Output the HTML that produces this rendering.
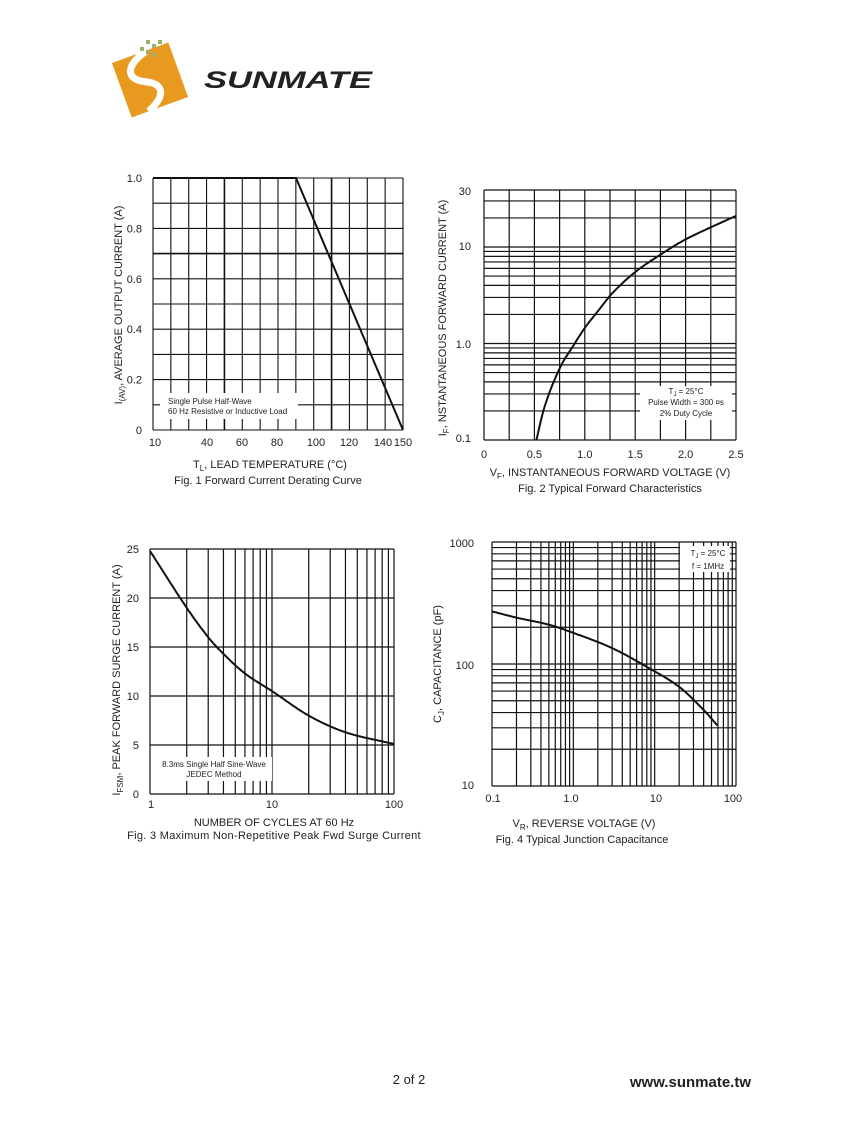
<!DOCTYPE html>
<html><head><meta charset="utf-8"><style>
html,body{margin:0;padding:0;background:#fff;}
body{width:847px;height:1125px;position:relative;overflow:hidden;font-family:"Liberation Sans",Arial,sans-serif;}
svg text{font-family:"Liberation Sans",Arial,sans-serif;fill:#222;}
</style></head><body>
<svg id="s" width="847" height="1125" xmlns="http://www.w3.org/2000/svg">
<g transform="translate(150,80) rotate(-20)">
<rect x="-30" y="-29" width="60" height="58" fill="#e79a1f"/>
<path d="M8,-29 C-20,-22 -22,-8 -5,0 C12,8 10,20 -12,29" stroke="#fff" stroke-width="7" fill="none"/>
</g>
<g fill="#9bb06a"><rect x="146" y="40" width="4" height="4"/><rect x="152" y="44" width="4" height="4"/><rect x="158" y="40" width="4" height="4"/><rect x="140" y="47" width="4" height="4"/><rect x="146" y="50" width="4" height="4"/><rect x="152" y="53" width="4" height="4"/></g>
<text x="204" y="88" font-size="24" font-weight="bold" font-style="italic" style="fill:#222" textLength="168" lengthAdjust="spacingAndGlyphs">SUNMATE</text>
<g id="g"></g>
<text x="409" y="1084" font-size="13" text-anchor="middle">2 of 2</text>
<text x="751" y="1087" font-size="15" font-weight="bold" text-anchor="end">www.sunmate.tw</text>
</svg>
<script>
var g=document.getElementById('g'),h='';
function L(x1,y1,x2,y2,w){h+='<line x1="'+x1+'" y1="'+y1+'" x2="'+x2+'" y2="'+y2+'" stroke="#111" stroke-width="'+(w||1.2)+'"/>';}
function T(x,y,t,s,a,extra){h+='<text x="'+x+'" y="'+y+'" font-size="'+(s||11)+'" text-anchor="'+(a||'middle')+'" '+(extra||'')+'>'+t+'</text>';}
function P(pts){h+='<polyline points="'+pts.map(p=>p[0].toFixed(1)+','+p[1].toFixed(1)).join(' ')+'" fill="none" stroke="#111" stroke-width="2"/>';}
function R(x,y,w,hh){h+='<rect x="'+x+'" y="'+y+'" width="'+w+'" height="'+hh+'" fill="#fff"/>';}
// Catmull-Rom smooth interpolation
function interp(pts,x){var n=pts.length;for(var i=0;i<n-1;i++){if(x<=pts[i+1][0]||i==n-2){var p0=pts[Math.max(i-1,0)],p1=pts[i],p2=pts[i+1],p3=pts[Math.min(i+2,n-1)];var t=(x-p1[0])/(p2[0]-p1[0]);t=Math.max(0,Math.min(1,t));
var m1=(p2[1]-p0[1])/(p2[0]-p0[0])*(p2[0]-p1[0]),m2=(p3[1]-p1[1])/(p3[0]-p1[0])*(p2[0]-p1[0]);
var t2=t*t,t3=t2*t;return (2*t3-3*t2+1)*p1[1]+(t3-2*t2+t)*m1+(-2*t3+3*t2)*p2[1]+(t3-t2)*m2;}}return pts[n-1][1];}
// Fig1
var x0=153,x1=403,y0=178,y1=430;
for(var i=0;i<=14;i++){var x=x0+(x1-x0)*i/14;L(x,y0,x,y1,(i==4||i==10)?1.6:1.1);}
for(var i=0;i<=10;i++){var y=y1-(y1-y0)*i/10;L(x0,y,x1,y,i==7?1.6:1.1);}
R(160,393,138,26);
T(168,404,'Single Pulse Half-Wave',8,'start');T(168,414,'60 Hz Resistive or Inductive Load',8,'start');
P([[x0,y0],[296,y0],[x1,y1]]);
[['1.0',0],['0.8',.2],['0.6',.4],['0.4',.6],['0.2',.8],['0',1]].forEach(function(a){T(142,y0+a[1]*(y1-y0)+4,a[0],11,'end');});
[['10',155],['40',207],['60',242],['80',277],['100',316],['120',349],['140',383],['150',403]].forEach(function(a){T(a[1],446,a[0],11);});
T(270,468,'T<tspan dy="3" font-size="8">L</tspan><tspan dy="-3">, LEAD TEMPERATURE (°C)</tspan>',11);
T(268,484,'Fig. 1  Forward Current Derating Curve',11);
T(0,0,'I<tspan dy="3" font-size="8">(AV)</tspan><tspan dy="-3">, AVERAGE OUTPUT CURRENT (A)</tspan>',11,'middle','transform="translate(122,305) rotate(-90)"');
// Fig2
x0=484;x1=736;y0=190;y1=440;var dec=96.5;
for(var i=0;i<=10;i++){var x=x0+(x1-x0)*i/10;L(x,y0,x,y1);}
function yl2(v){return y1-(Math.log10(v)+1)*dec;}
[0.1,1,10].forEach(function(d){for(var m=1;m<=9;m++){var v=d*m;var y=yl2(v);if(y>=y0-0.5)L(x0,y,x1,y);}});
L(x0,y0,x1,y0);
R(640,386,92,34);
T(686,394,'T<tspan dy="2" font-size="6">J</tspan><tspan dy="-2"> =  25°C</tspan>',8);T(686,405,'Pulse Width =  300 ¤s',8);T(686,416,'2% Duty Cycle',8);
var d2=[[0.52,0.1],[0.6,0.22],[0.75,0.55],[0.9,1.0],[1.0,1.45],[1.15,2.3],[1.27,3.3],[1.5,5.5],[1.8,9],[2.0,12],[2.25,16],[2.5,21]];
var d2l=d2.map(p=>[p[0],Math.log10(p[1])]);
var c2=[];for(var v=0.52;v<=2.501;v+=0.01){var lg=interp(d2l,v);c2.push([x0+v*(x1-x0)/2.5,y1-(lg+1)*dec]);}
P(c2);
[['30',195],['10',250],['1.0',348],['0.1',442]].forEach(function(a){T(471,a[1],a[0],11,'end');});
['0','0.5','1.0','1.5','2.0','2.5'].forEach(function(t,i){T(x0+i*(x1-x0)/5,458,t,11);});
T(610,476,'V<tspan dy="3" font-size="8">F</tspan><tspan dy="-3">, INSTANTANEOUS FORWARD VOLTAGE (V)</tspan>',11);
T(610,492,'Fig. 2  Typical Forward Characteristics',11);
T(0,0,'I<tspan dy="3" font-size="8">F</tspan><tspan dy="-3">, NSTANTANEOUS FORWARD CURRENT (A)</tspan>',11,'middle','transform="translate(446,318) rotate(-90)"');
// Fig3
x0=150;x1=394;y0=549;y1=794;var dx=(x1-x0)/2;
function xl3(v){return x0+Math.log10(v)*dx;}
[1,10].forEach(function(d){for(var m=1;m<=9;m++)L(xl3(d*m),y0,xl3(d*m),y1);});L(x1,y0,x1,y1);
for(var i=0;i<=5;i++){var y=y1-(y1-y0)*i/5;L(x0,y,x1,y);}
R(156,757,116,24);
T(214,767,'8.3ms Single Half Sine-Wave',8);T(214,777,'JEDEC Method',8);
var d3=[[0,24.8],[0.301,19],[0.477,16],[0.602,14.3],[0.778,12.3],[1,10.5],[1.301,8],[1.602,6.3],[2,5.1]];
var c3=[];for(var l=0;l<=2.001;l+=0.01){c3.push([x0+l*dx,y1-interp(d3,l)*(y1-y0)/25]);}P(c3);
['25','20','15','10','5','0'].forEach(function(t,i){T(139,y0+i*(y1-y0)/5+4,t,11,'end');});
T(151,808,'1',11);T(272,808,'10',11);T(394,808,'100',11);
T(274,826,'NUMBER OF CYCLES AT 60 Hz',11);
T(274,839,'Fig. 3  Maximum Non-Repetitive Peak Fwd Surge Current',11,'middle','letter-spacing="0.3"');
T(0,0,'I<tspan dy="3" font-size="8">FSM</tspan><tspan dy="-3">, PEAK FORWARD SURGE CURRENT (A)</tspan>',11,'middle','transform="translate(120,680) rotate(-90)"');
// Fig4
x0=492;x1=736;y0=542;y1=786;var dxx=(x1-x0)/3,dyy=(y1-y0)/2;
function xl4(v){return x0+(Math.log10(v)+1)*dxx;}function yl4(v){return y1-(Math.log10(v)-1)*dyy;}
[0.1,1,10].forEach(function(d){for(var m=1;m<=9;m++)L(xl4(d*m),y0,xl4(d*m),y1);});L(x1,y0,x1,y1);
[10,100].forEach(function(d){for(var m=1;m<=9;m++)L(x0,yl4(d*m),x1,yl4(d*m));});L(x0,y0,x1,y0);
R(680,546,50,26);
T(708,556,'T<tspan dy="2" font-size="6">J</tspan><tspan dy="-2"> =  25°C</tspan>',8);T(708,569,'f =  1MHz',8);
var d4=[[-1,270],[-0.7,240],[-0.3,210],[0,180],[0.477,135],[0.9,95],[1.301,65],[1.602,42],[1.778,31]];
var d4l=d4.map(p=>[p[0],Math.log10(p[1])]);
var c4=[];for(var l=-1;l<=1.779;l+=0.01){var lg=interp(d4l,l);c4.push([x0+(l+1)*dxx,y1-(lg-1)*dyy]);}P(c4);
T(474,547,'1000',11,'end');T(474,669,'100',11,'end');T(474,789,'10',11,'end');
T(493,802,'0.1',11);T(571,802,'1.0',11);T(656,802,'10',11);T(733,802,'100',11);
T(584,827,'V<tspan dy="3" font-size="8">R</tspan><tspan dy="-3">, REVERSE VOLTAGE (V)</tspan>',11);
T(582,843,'Fig. 4  Typical Junction Capacitance',11);
T(0,0,'C<tspan dy="3" font-size="8">J</tspan><tspan dy="-3">, CAPACITANCE (pF)</tspan>',11,'middle','transform="translate(441,664) rotate(-90)"');
g.innerHTML=h;
</script>
</body></html>
